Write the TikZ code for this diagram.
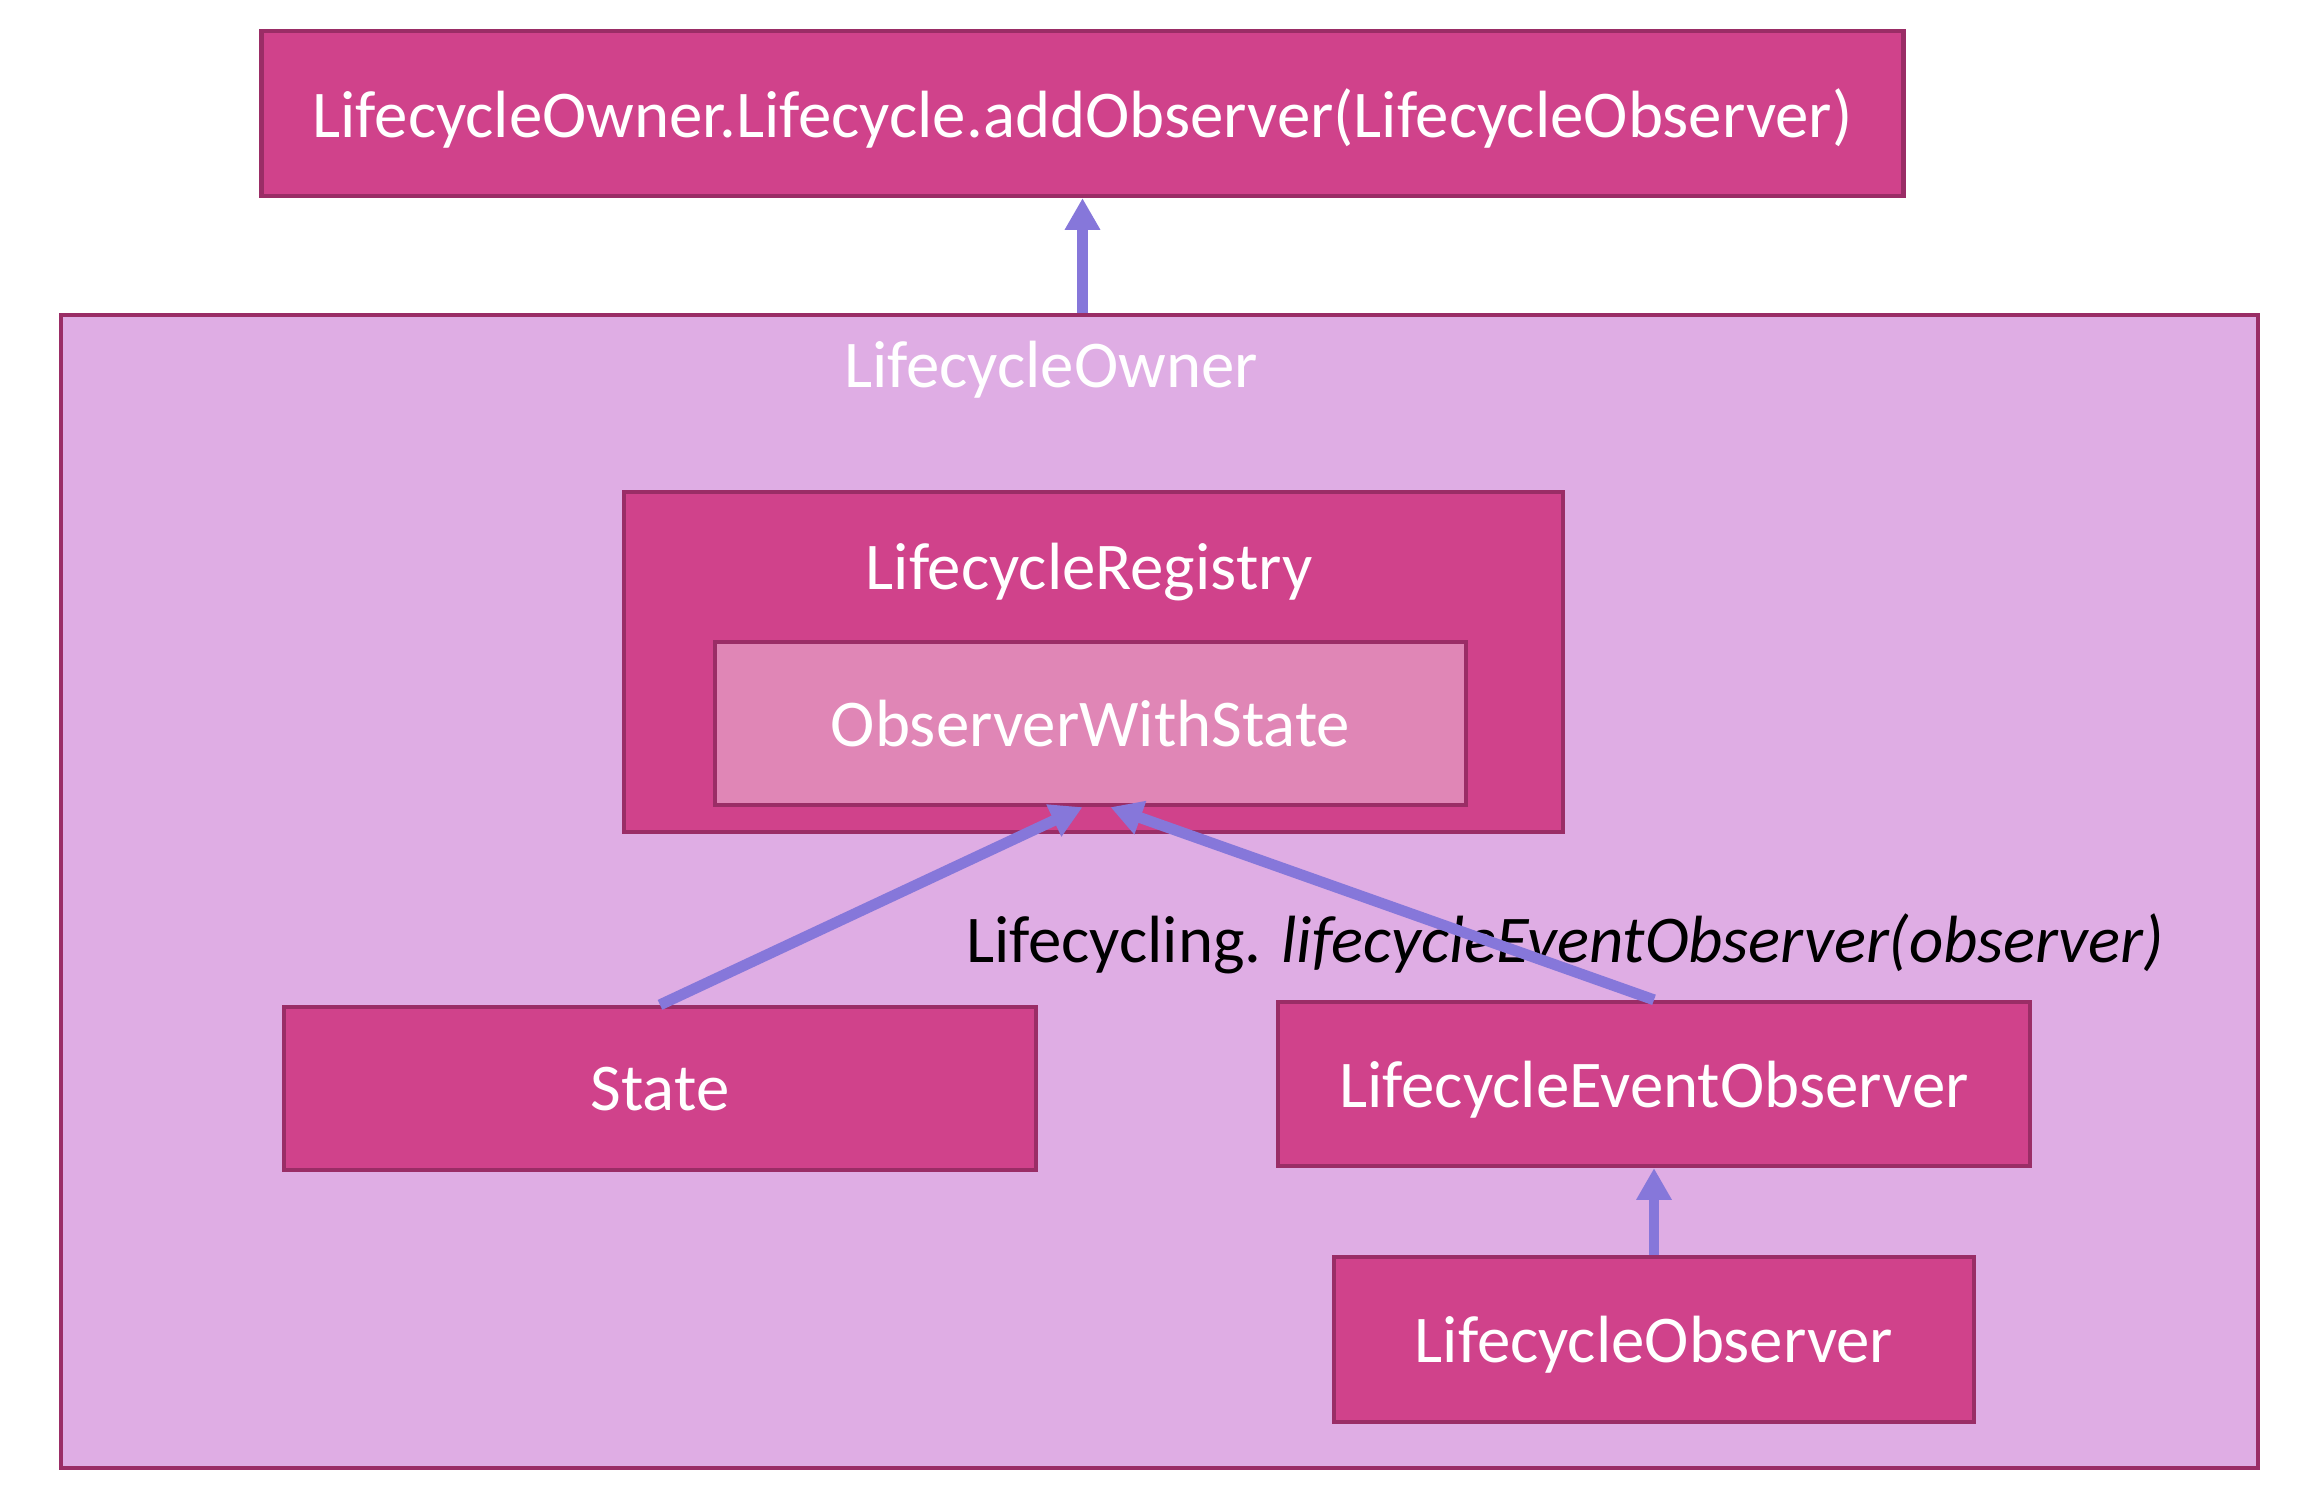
\documentclass[tikz,border=0pt]{standalone}
\usepackage{fontspec}
\setmainfont{Carlito}
\usetikzlibrary{arrows.meta}
\usetikzlibrary{positioning}

\definecolor{boxpink}{HTML}{D0428B}
\definecolor{boxedge}{HTML}{9A2D66}
\definecolor{ownerfill}{HTML}{DFADE4}
\definecolor{statefill}{HTML}{E086B6}
\definecolor{linkblue}{HTML}{8677DA}

\begin{document}
\begin{tikzpicture}[
			x=0.01cm, y=-0.01cm,
			font=\fontsize{19}{23}\selectfont,
			box/.style={rectangle, inner sep=0pt, text centered, draw=boxedge, line width=1.2pt, fill=boxpink, text=white, text depth=0pt},
			owner/.style={rectangle, inner sep=0pt, draw=boxedge, line width=1.2pt, fill=ownerfill},
			title/.style={text=white, inner sep=0pt},
			link/.style={draw=linkblue, line width=3.1pt, arrows={-Triangle[length=9pt, width=9.5pt]}},
			]
			
			\useasboundingbox (0,0) rectangle (2308,1510);
			
			\node[owner]       (m_owner) at (1159.5,891.5)   [minimum width=21.95cm, minimum height=11.53cm] {};
			\node[title]       (m_owner_title) at (1051,370)  {LifecycleOwner};
			\node[box]         (m_add) at (1082.5,113.5)      [minimum width=16.41cm, minimum height=1.65cm] {LifecycleOwner.Lifecycle.addObserver(LifecycleObserver)};
			\node[box]         (m_registry) at (1093.5,662)   [minimum width=9.39cm, minimum height=3.40cm] {};
			\node[title]       (m_registry_title) at (1089,572) {LifecycleRegistry};
			\node[box]         (m_obs) at (1090.5,723.5)      [minimum width=7.51cm, minimum height=1.63cm, fill=statefill] {ObserverWithState};
			\node[box]         (m_state) at (660,1088.5)      [minimum width=7.52cm, minimum height=1.63cm] {State};
			\node[box]         (m_event) at (1654,1084)       [minimum width=7.52cm, minimum height=1.64cm] {LifecycleEventObserver};
			\node[box]         (m_observer) at (1654,1339.5)  [minimum width=6.40cm, minimum height=1.65cm] {LifecycleObserver};
			\node[inner sep=0pt] (m_lifecycling) at (1565,944) {Lifecycling. \textit{lifecycleEventObserver(observer)}};
			
			\draw [link] (m_owner.north -| m_add.south) -- (m_add.south);
			\draw [link] (m_state.north) -- ([xshift=-0.08cm]m_obs.south);
			\draw [link] (m_event.north) -- ([xshift=0.2cm]m_obs.south);
			\draw [link] (m_observer.north) -- (m_event.south);
			
			\end{tikzpicture}
\end{document}
